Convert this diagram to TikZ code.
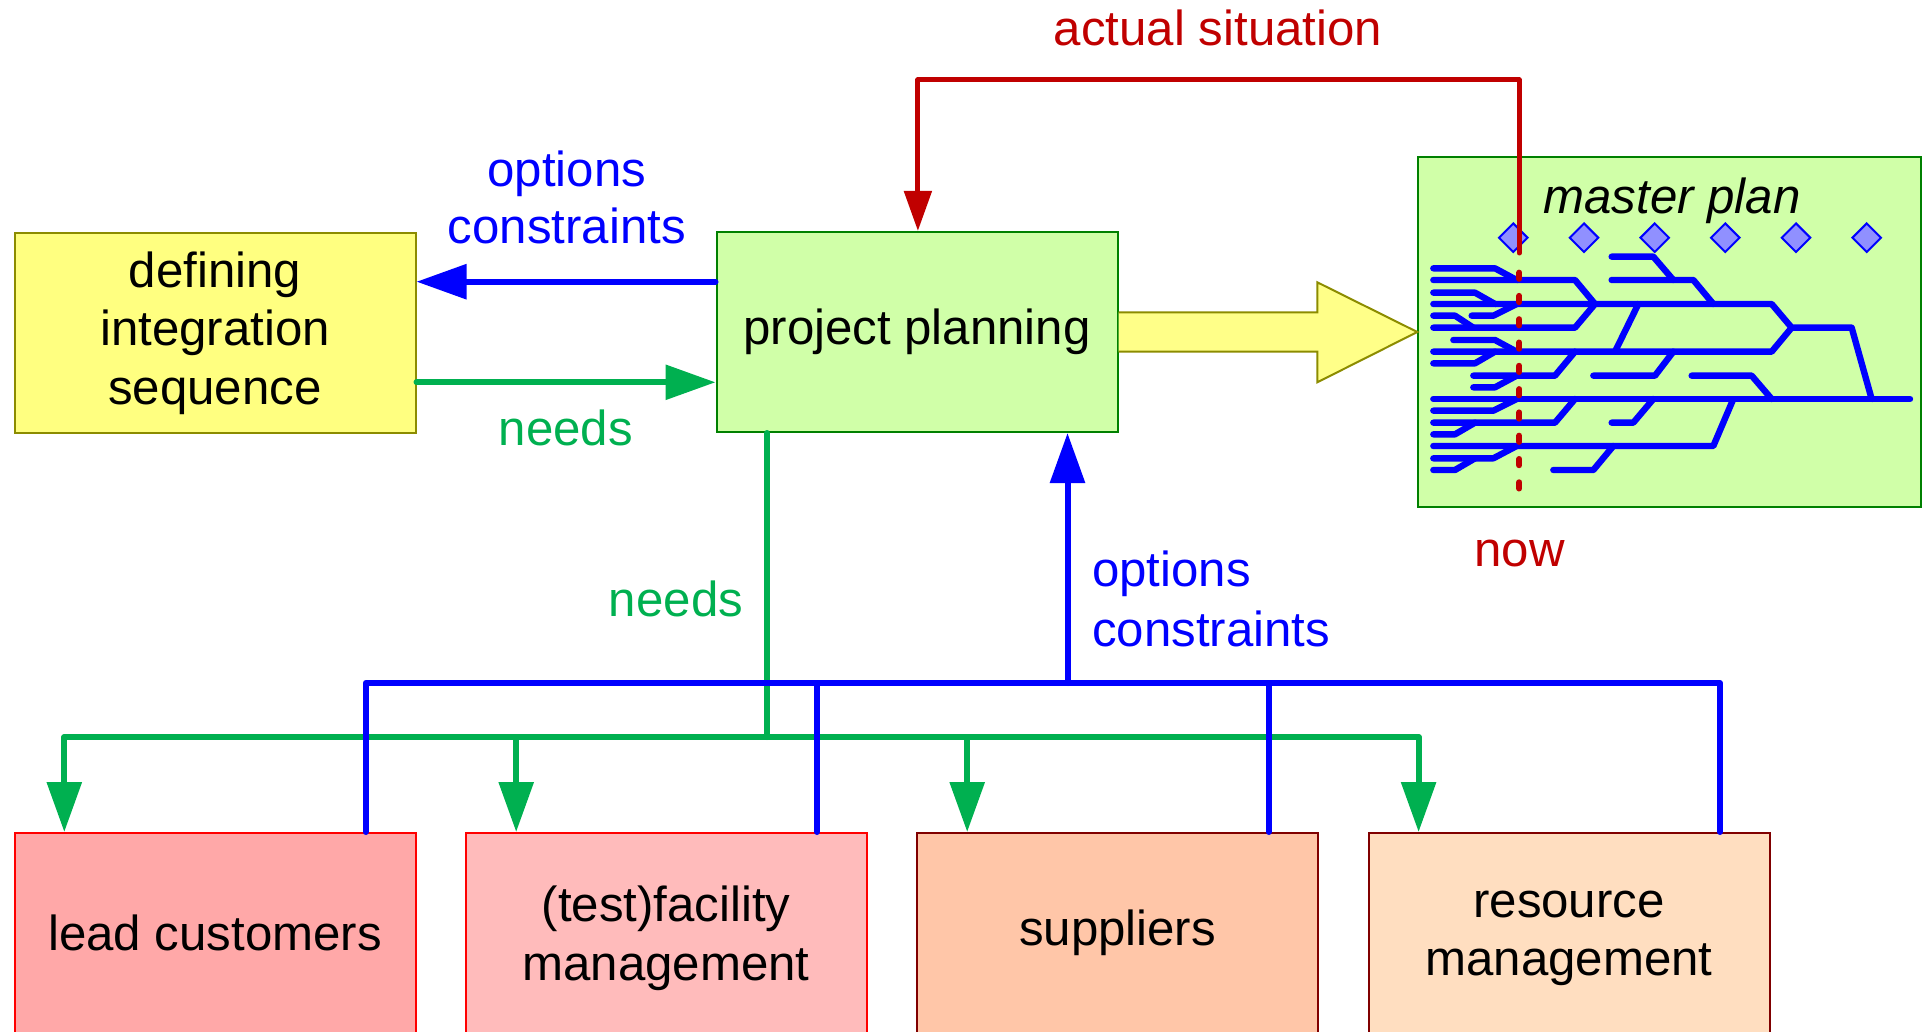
\documentclass[tikz,border=0pt]{standalone}
\usepackage{fontspec}
\setmainfont{Liberation Sans}
\usetikzlibrary{arrows.meta,shapes.geometric,calc}
\definecolor{cblue}{RGB}{0,0,255}
\definecolor{cgreen}{RGB}{0,176,80}
\definecolor{cred}{RGB}{192,0,0}
\definecolor{yfill}{RGB}{255,255,128}
\definecolor{ydraw}{RGB}{140,140,0}
\definecolor{gfill}{RGB}{208,255,168}
\definecolor{gdraw}{RGB}{0,128,0}
\definecolor{lfill}{RGB}{255,168,168}
\definecolor{tfill}{RGB}{255,187,187}
\definecolor{sfill}{RGB}{255,198,168}
\definecolor{rfill}{RGB}{255,222,192}
\definecolor{dred}{RGB}{128,0,0}
\definecolor{dfill}{RGB}{144,144,255}
\definecolor{afill}{RGB}{255,255,136}
\newcommand\myfs{\fontsize{24.6pt}{29.2pt}\selectfont}
\begin{document}
\begin{tikzpicture}[x=0.5pt,y=-0.5pt,
  every node/.style={font=\myfs},
  box/.style={draw, line width=1pt, minimum width=200.5pt, minimum height=100pt, align=center, inner sep=0pt},
  lbl/.style={anchor=base, inner sep=0pt},
  conn/.style={line width=3pt, line cap=round, line join=round},
  tip/.style={-{Triangle[length=25pt,width=17pt]}},
  rtip/.style={-{Triangle[length=20pt,width=13.5pt]}},
  tree/.style={draw=cblue, line width=3.2pt, line cap=round, line join=round},
  dmd/.style={diamond, draw=cblue, fill=dfill, line width=1pt, minimum width=14.7pt, minimum height=14.7pt, inner sep=0pt}
  ]
\useasboundingbox (0,0) rectangle (1923,1032);
\clip (0,0) rectangle (1923,1032);

% boxes
\node[box, fill=yfill, draw=ydraw] (def) at (215,333) {defining\\integration\\sequence};
\node[box, fill=gfill, draw=gdraw] (pp) at (917,332) {project planning};
\node[box, fill=gfill, draw=gdraw, minimum width=251.2pt, minimum height=175.3pt] (mp) at (1669.5,332) {};
\node[lbl, font=\myfs\itshape] (mpt) at (1672,213.3) {master plan};

\node[box, fill=lfill, draw=red] (lead) at (215,933) {lead customers};
\node[box, fill=tfill, draw=red, text depth=0pt] (test) at (666,933) {(test)facility\\management};
\node[box, fill=sfill, draw=dred] (sup) at (1117.5,933) {suppliers};
\node[box, fill=rfill, draw=dred, text depth=0pt] (res) at (1569,933) {resource\\management};

% big yellow arrow
\draw[fill=afill, draw=ydraw, line width=1pt, line join=miter]
  ($(pp.east)+(0,-19.7)$) -- ($(mp.west)+(-100,-19.7)$) -- ($(mp.west)+(-100,-49.7)$)
  -- (mp.west) -- ($(mp.west)+(-100,50.3)$) -- ($(mp.west)+(-100,19.7)$) -- ($(pp.east)+(0,19.7)$);

% master plan tree
\begin{scope}[shift={(1410,150)}, scale=1/3]
\draw[tree] (70,355) -- (255,355) -- (320,390);
\draw[tree] (70,390) -- (495,390) -- (555,462);
\draw[tree] (70,428) -- (195,428) -- (255,462);
\draw[tree] (70,462) -- (1085,462) -- (1145,533) -- (1325,533) -- (1385,747);
\draw[tree] (185,497) -- (250,497) -- (320,462);
\draw[tree] (70,497) -- (135,497) -- (190,533);
\draw[tree] (70,533) -- (495,533) -- (555,462);
\draw[tree] (605,320) -- (730,320) -- (790,390);
\draw[tree] (605,390) -- (850,390) -- (910,462);
\draw[tree] (685,462) -- (615,605);
\draw[tree] (130,570) -- (255,570) -- (320,605);
\draw[tree] (70,605) -- (1085,605) -- (1145,533);
\draw[tree] (70,640) -- (195,640) -- (255,605);
\draw[tree] (190,677) -- (435,677) -- (495,605);
\draw[tree] (550,677) -- (735,677) -- (790,605);
\draw[tree] (190,712) -- (255,712) -- (320,677);
\draw[tree] (845,677) -- (1025,677) -- (1085,747);
\draw[tree] (70,747) -- (1500,747);
\draw[tree] (70,782) -- (250,782) -- (320,747);
\draw[tree] (70,818) -- (435,818) -- (495,747);
\draw[tree] (605,818) -- (670,818) -- (730,747);
\draw[tree] (70,853) -- (135,853) -- (195,818);
\draw[tree] (70,888) -- (910,888) -- (970,747);
\draw[tree] (70,925) -- (250,925) -- (320,888);
\draw[tree] (70,960) -- (135,960) -- (195,925);
\draw[tree] (430,960) -- (550,960) -- (610,888);
\end{scope}

% milestones
\node[dmd] (d1) at (1513.3,237.7) {};
\node[dmd] (d2) at (1584,237.7) {};
\node[dmd] (d3) at (1654.7,237.7) {};
\node[dmd] (d4) at (1725.3,237.7) {};
\node[dmd] (d5) at (1796,237.7) {};
\node[dmd] (d6) at (1866.7,237.7) {};

% actual situation (red)
\coordinate (now0) at (1519.3,253);
\coordinate (rc) at (1519.3,80);
\coordinate (rl) at (917.9,80);
\draw[cred, line width=2.5pt, line cap=round, line join=round, rtip]
  (now0) -- (rc) -- (rl) -- (rl |- pp.north);
\coordinate (ds) at (1519.3,272.6);
\coordinate (de) at (1519.3,489);
\draw[cred, line width=3pt, line cap=round, dash pattern=on 3.1pt off 8.55pt] (ds) -- (de);

% left connectors
\coordinate (ya) at (0,281.7);
\coordinate (yb) at (0,382.3);
\draw[conn, cblue, tip] (pp.west |- ya) -- (def.east |- ya);
\draw[conn, cgreen, tip] (def.east |- yb) -- (pp.west |- yb);

% needs distribution (green)
\coordinate (gtrunk) at (767,737);
\coordinate (gL) at (64.3,737);
\coordinate (gT) at (516.2,737);
\coordinate (gS) at (967.2,737);
\coordinate (gR) at (1418.6,737);
\draw[conn, cgreen] (pp.south -| gtrunk) -- (gtrunk);
\draw[conn, cgreen, {Triangle[length=25pt,width=17pt]}-{Triangle[length=25pt,width=17pt]}]
  (gL |- lead.north) -- (gL) -- (gR) -- (gR |- res.north);
\draw[conn, cgreen, tip] (gT) -- (gT |- test.north);
\draw[conn, cgreen, tip] (gS) -- (gS |- sup.north);

% options / constraints collection (blue)
\coordinate (bL) at (365.6,683);
\coordinate (bT) at (817,683);
\coordinate (bS) at (1268.6,683);
\coordinate (bR) at (1720,683);
\coordinate (bU) at (1067.5,683);
\draw[conn, cblue] (bL |- lead.north) -- (bL) -- (bR) -- (bR |- res.north);
\draw[conn, cblue] (bT |- test.north) -- (bT);
\draw[conn, cblue] (bS |- sup.north) -- (bS);
\draw[conn, cblue, tip] (bU) -- (bU |- pp.south);

% labels
\node[lbl, text=cred] (lact) at (1218,46) {actual situation};
\node[lbl, text=cblue] (lopt1) at (566.7,186.7) {options};
\node[lbl, text=cblue] (lcon1) at (566.7,243.3) {constraints};
\node[lbl, text=cgreen] (lneed1) at (565.7,445) {needs};
\node[lbl, text=cgreen] (lneed2) at (676,616.7) {needs};
\node[lbl, anchor=base west, text=cblue] (lopt2) at (1091.7,586.7) {options};
\node[lbl, anchor=base west, text=cblue] (lcon2) at (1091.7,646.7) {constraints};
\node[lbl, text=cred] (lnow) at (1519.5,566.7) {now};
\end{tikzpicture}
\end{document}
